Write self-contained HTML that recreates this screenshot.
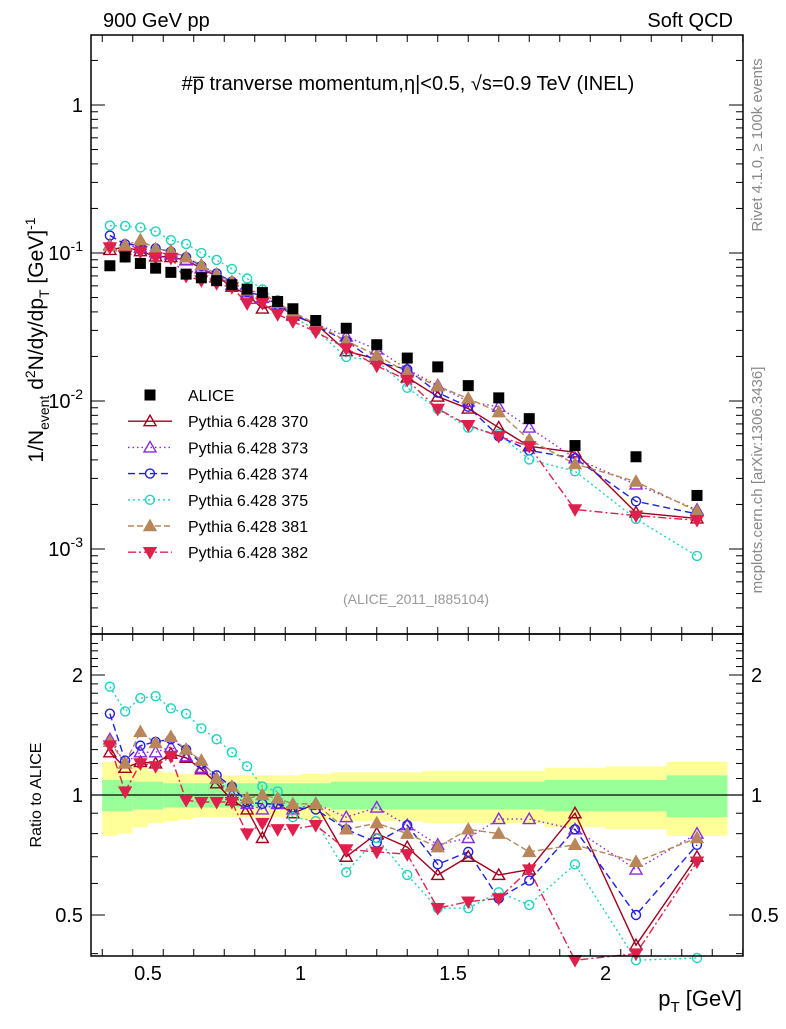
<!DOCTYPE html>
<html><head><meta charset="utf-8"><style>
body{margin:0;background:#fff}
svg text{font-family:"Liberation Sans",sans-serif}
</style></head><body>
<svg id="c" width="786" height="1024" xmlns="http://www.w3.org/2000/svg">
<text x="103" y="27" font-size="20">900 GeV pp</text>
<text x="733" y="27" font-size="20" text-anchor="end">Soft QCD</text>
<text x="408" y="90" font-size="20" text-anchor="middle">#p̅ tranverse momentum,η|&lt;0.5, √s=0.9 TeV (INEL)</text>
<text transform="translate(43,340) rotate(-90)" font-size="21" text-anchor="middle">1/N<tspan font-size="14" dy="6">event</tspan><tspan dy="-6"> d</tspan><tspan font-size="14" dy="-8">2</tspan><tspan dy="8">N/dy/dp</tspan><tspan font-size="14" dy="6">T</tspan><tspan dy="-6"> [GeV]</tspan><tspan font-size="14" dy="-8">-1</tspan></text>
<text transform="translate(41,795) rotate(-90)" font-size="16" text-anchor="middle">Ratio to ALICE</text>
<text transform="translate(762,145) rotate(-90)" font-size="15" fill="#888" text-anchor="middle">Rivet 4.1.0, ≥ 100k events</text>
<text transform="translate(762,480) rotate(-90)" font-size="15" fill="#888" text-anchor="middle">mcplots.cern.ch [arXiv:1306.3436]</text>
<text x="416" y="604" font-size="14" fill="#999" text-anchor="middle">(ALICE_2011_I885104)</text>
<text x="742" y="1006" font-size="22" text-anchor="end">p<tspan font-size="15" dy="6">T</tspan><tspan dy="-6"> [GeV]</tspan></text>
<g id="bands"></g><g id="lines"></g><g id="marks"></g><g id="axes"></g><g id="legend"></g>
</svg>
<script>
const pT=[0.375,0.425,0.475,0.525,0.575,0.625,0.675,0.725,0.775,0.825,0.875,0.925,0.975,1.05,1.15,1.25,1.35,1.45,1.55,1.65,1.75,1.9,2.1,2.3];
const binLo=[0.35,0.4,0.45,0.5,0.55,0.6,0.65,0.7,0.75,0.8,0.85,0.9,0.95,1.0,1.1,1.2,1.3,1.4,1.5,1.6,1.7,1.8,2.0,2.2];
const binHi=[0.4,0.45,0.5,0.55,0.6,0.65,0.7,0.75,0.8,0.85,0.9,0.95,1.0,1.1,1.2,1.3,1.4,1.5,1.6,1.7,1.8,2.0,2.2,2.4];
const alice=[0.082,0.094,0.085,0.079,0.074,0.072,0.068,0.065,0.061,0.057,0.054,0.047,0.042,0.035,0.031,0.024,0.0195,0.017,0.0127,0.0105,0.0076,0.0050,0.0042,0.0023];
const statErr=[0.09,0.09,0.08,0.08,0.07,0.07,0.07,0.07,0.07,0.07,0.07,0.07,0.07,0.07,0.08,0.08,0.08,0.08,0.08,0.08,0.08,0.09,0.09,0.12];
const totErr=[0.21,0.2,0.17,0.15,0.14,0.13,0.12,0.12,0.12,0.12,0.12,0.12,0.12,0.13,0.14,0.14,0.14,0.15,0.15,0.15,0.15,0.17,0.18,0.21];
const r370=[1.28,1.17,1.21,1.2,1.27,1.24,1.16,1.07,0.97,0.92,0.78,0.95,0.9,0.95,0.7,0.8,0.74,0.63,0.7,0.63,0.65,0.9,0.42,0.7];
const r373=[1.38,1.2,1.28,1.28,1.32,1.25,1.17,1.1,1.0,0.95,0.92,0.95,0.92,0.95,0.88,0.93,0.84,0.75,0.78,0.87,0.87,0.82,0.65,0.8];
const r374=[1.6,1.22,1.33,1.36,1.38,1.3,1.2,1.12,1.05,0.96,0.95,0.95,0.93,0.92,0.82,0.76,0.84,0.67,0.72,0.55,0.61,0.82,0.5,0.75];
const r375=[1.87,1.62,1.75,1.77,1.65,1.6,1.47,1.38,1.28,1.18,1.05,1.02,0.88,0.86,0.64,0.78,0.63,0.52,0.52,0.57,0.53,0.67,0.38,0.39];
const r381=[1.36,1.2,1.44,1.35,1.4,1.3,1.22,1.1,1.05,0.98,1.0,0.98,0.95,0.95,0.82,0.85,0.8,0.74,0.82,0.8,0.72,0.75,0.68,0.78];
const r382=[1.33,1.02,1.2,1.18,1.25,0.97,0.96,0.96,0.96,0.8,0.85,0.82,0.82,0.84,0.73,0.72,0.71,0.52,0.54,0.55,0.65,0.37,0.4,0.68];
const legendNames=["ALICE","Pythia 6.428 370","Pythia 6.428 373","Pythia 6.428 374","Pythia 6.428 375","Pythia 6.428 381","Pythia 6.428 382"];
const xTicks=[0.5,1,1.5,2];const xTickLabels=["0.5","1","1.5","2"];
const yMain=[1,0.1,0.01,0.001];
const rTicks=[0.5,1,2];const rTickLabels=["0.5","1","2"];

const NS="http://www.w3.org/2000/svg";
const L=91,R=743,T=35,MB=634,B=956;
const X=p=>148+(p-0.5)*305;
const Y=v=>105-Math.log10(v)*148;
const RY=r=>795-Math.log10(r)*398.6;
function mk(t,a,parent){const e=document.createElementNS(NS,t);for(const k in a)e.setAttribute(k,a[k]);document.getElementById(parent).appendChild(e);return e;}
const series=[
 {n:"mc-370",r:r370,c:"#a0001c",m:"tu",f:false,d:""},
 {n:"mc-373",r:r373,c:"#8a2be2",m:"tu",f:false,d:"1.5,3"},
 {n:"mc-374",r:r374,c:"#1e1ee6",m:"c",f:false,d:"7,4"},
 {n:"mc-375",r:r375,c:"#20d2c0",m:"c",f:false,d:"2,3"},
 {n:"mc-381",r:r381,c:"#b8865a",m:"tu",f:true,d:"6,3"},
 {n:"mc-382",r:r382,c:"#e0204c",m:"td",f:true,d:"8,3,2,3"}];
for(let i=0;i<pT.length;i++){
 const x1=Math.max(X(binLo[i]),L),x2=X(binHi[i]);
 let e=mk("rect",{x:x1,y:RY(1+totErr[i]),width:x2-x1,height:RY(1-totErr[i])-RY(1+totErr[i]),fill:"#ffff99"},"bands");
 
 
 e=mk("rect",{x:x1,y:RY(1+statErr[i]),width:x2-x1,height:RY(1-statErr[i])-RY(1+statErr[i]),fill:"#99ff99"},"bands");
 
 
}
mk("line",{x1:L,x2:R,y1:RY(1),y2:RY(1),stroke:"#000","stroke-width":1.2},"lines");
function marker(g,x,y,s,name){let e;
 if(s.m=="c")e=mk("circle",{cx:x,cy:y,r:4.5,fill:"none",stroke:s.c,"stroke-width":1.4},g);
 else if(s.m=="sq")e=mk("rect",{x:x-5.5,y:y-5.5,width:11,height:11,fill:"#000"},g);
 else{const h=s.m=="tu"?1:-1;e=mk("polygon",{points:`${x-6},${y+4.5*h} ${x+6},${y+4.5*h} ${x},${y-6*h}`,fill:s.f?s.c:"#fff","fill-opacity":s.f?1:0,stroke:s.c,"stroke-width":1.4},g);}
 
 
}
const clipR=r=>Math.min(Math.max(r,0.385),2.5);
series.forEach(s=>{
 const main=pT.map((p,i)=>[X(p),Y(alice[i]*s.r[i])]);
 const rat=pT.map((p,i)=>[X(p),RY(clipR(s.r[i]))]);
 let e=mk("polyline",{points:main.join(" "),fill:"none",stroke:s.c,"stroke-width":1.4,"stroke-dasharray":s.d},"lines");
 
 
 e=mk("polyline",{points:rat.join(" "),fill:"none",stroke:s.c,"stroke-width":1.4,"stroke-dasharray":s.d},"lines");
 
 
 main.forEach(p=>marker("marks",p[0],p[1],s,s.n+'-point'));
 rat.forEach(p=>marker("marks",p[0],p[1],s,s.n+'-ratio-point'));
});
pT.forEach((p,i)=>marker("marks",X(p),Y(alice[i]),{m:"sq"},'alice-point'));
let fr=mk("rect",{x:L,y:T,width:R-L,height:MB-T,fill:"none",stroke:"#000","stroke-width":1.5},"axes");

fr=mk("rect",{x:L,y:MB,width:R-L,height:B-MB,fill:"none",stroke:"#000","stroke-width":1.5},"axes");

function tk(x1,y1,x2,y2){mk("line",{x1,y1,x2,y2,stroke:"#000","stroke-width":1},"axes");}
for(let p=0.35;p<2.46;p+=0.1){const x=X(p),big=Math.abs(p*2-Math.round(p*2))<0.01;const l=big?13:7;
 tk(x,MB,x,MB-l);tk(x,T,x,T+l);tk(x,B,x,B-l);tk(x,MB,x,MB+l);}
for(let d=-4;d<=0;d++)for(let k=1;k<10;k++){const y=Y(k*Math.pow(10,d));if(y<T||y>MB)continue;const l=k==1?14:7;tk(L,y,L+l,y);tk(R,y,R-l,y);}
yMain.forEach(v=>{const e=mk("text",{x:L-8,y:Y(v)+7,"font-size":20,"text-anchor":"end"},"axes");
 e.textContent=v==1?"1":"";
 if(v<1){const ex=Math.round(Math.log10(v));e.innerHTML=`10<tspan font-size="14" dy="-9">${ex}</tspan>`;}
 });
for(let r=0.4;r<=2.5;r+=0.1){const y=RY(r);if(y<MB||y>B)continue;const big=[0.5,1,2].some(v=>Math.abs(v-r)<0.01);const l=big?14:7;tk(L,y,L+l,y);tk(R,y,R-l,y);}
rTicks.forEach((r,i)=>{let e=mk("text",{x:L-8,y:RY(r)+7,"font-size":20,"text-anchor":"end"},"axes");e.textContent=rTickLabels[i];
 
 e=mk("text",{x:R+8,y:RY(r)+7,"font-size":20},"axes");e.textContent=rTickLabels[i];
 });
xTicks.forEach((p,i)=>{const e=mk("text",{x:X(p),y:980,"font-size":20,"text-anchor":"middle"},"axes");e.textContent=xTickLabels[i];
 });
const lstyles=[{m:"sq"}].concat(series);
lstyles.forEach((s,i)=>{const y=395+i*26.2;
 if(i>0){const e=mk("line",{x1:128,x2:172,y1:y,y2:y,stroke:s.c,"stroke-width":1.4,"stroke-dasharray":s.d},"legend");}
 marker("legend",150,y,s,'legend-marker');
 const t=mk("text",{x:188,y:y+6,"font-size":16},"legend");t.textContent=legendNames[i];
 });
</script>
</body></html>
